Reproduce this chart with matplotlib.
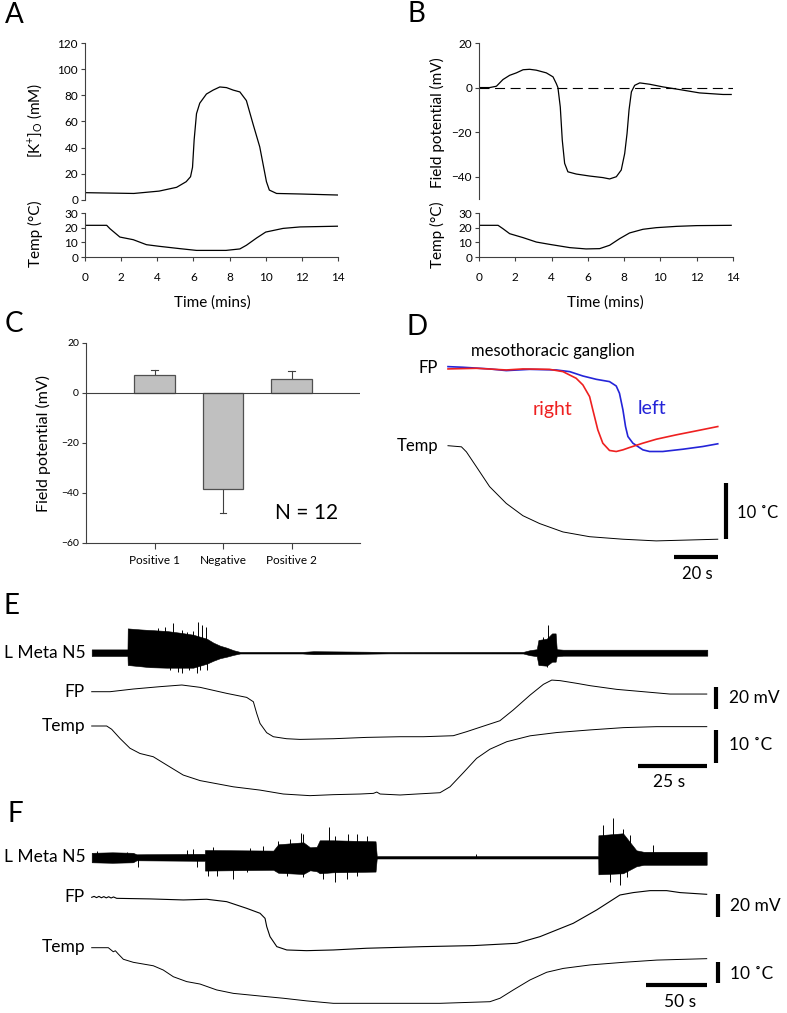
import numpy as np
import matplotlib
matplotlib.use('Agg')
import matplotlib.pyplot as plt

plt.rcParams['font.family'] = ['Lato', 'DejaVu Sans']
plt.rcParams['mathtext.default'] = 'regular'

# ---------------- DATA ----------------
# A: extracellular K+ and temperature vs time (mins)
a_time = [0, 2.7, 4.1, 5.07, 5.6, 5.84, 5.95, 6.04, 6.17, 6.35, 6.72, 7.09, 7.46, 7.83, 8.2, 8.57,
          8.93, 9.3, 9.67, 10.04, 10.2, 10.6, 11.9, 14]
a_k = [5.6, 5.0, 6.8, 9.7, 14, 17.8, 25, 46, 66, 74, 81, 84, 86.4, 85.9, 84, 82.6,
       76, 58, 40.6, 14, 7.6, 5.0, 4.6, 3.8]
a_temp_time = [0, 1.2, 1.38, 1.93, 2.67, 3.4, 4.1, 5.25, 6.17, 7.8, 8.57, 8.93, 9.5, 10.0, 10.96, 11.9, 14]
a_temp = [21.6, 21.6, 19.3, 13.6, 11.8, 8.4, 7.3, 5.7, 4.5, 4.5, 5.5, 8.0, 13.0, 17.0, 19.5, 20.5, 21.0]

# B: field potential and temperature vs time (mins)
b_time = [0, 0.59, 0.96, 1.32, 1.69, 2.06, 2.43, 2.79, 3.16, 3.71, 4.08, 4.26, 4.35, 4.48, 4.59, 4.72,
          4.9, 5.36, 6.1, 6.83, 7.2, 7.57, 7.84, 8.03, 8.16, 8.27, 8.4, 8.58, 8.86, 9.4, 10.14,
          11.06, 12.16, 13.45, 13.9]
b_fp = [0, 0, 0.6, 3.6, 5.5, 6.6, 8.0, 8.2, 7.8, 6.6, 4.8, 1.8, 0, -8.7, -23.6, -34,
        -37.8, -38.8, -39.7, -40.4, -41, -40, -37, -29.6, -20.6, -10, -1.9, 1.0, 2.1, 1.5, 0.3,
        -0.9, -2.4, -3.1, -3.1]
b_temp_time = [0, 1.05, 1.32, 1.69, 2.43, 3.16, 3.9, 5.0, 5.9, 6.65, 7.2, 7.75, 8.3, 9.04, 9.77,
               10.9, 12.0, 13.9]
b_temp = [21.6, 21.6, 19.3, 15.9, 13.2, 10.2, 8.6, 6.4, 5.5, 5.7, 8.0, 12.5, 16.4, 18.9, 20.0,
          20.9, 21.4, 21.6]

# C: mean field potential (mV) with SEM
c_labels = ['Positive 1', 'Negative', 'Positive 2']
c_means = [7.3, -38.5, 5.7]
c_err = [2.0, 9.4, 3.0]

# D: mesothoracic ganglion, time in s, FP in mV, temp change in degC
d_left_time = [0, 6.9, 19.2, 26.9, 37.7, 50, 56.2, 62.3, 68.5, 74.6, 77.7, 79.2, 80.8, 82, 83.1,
               85.4, 90, 93.1, 99.2, 108.5, 117.7, 124.6]
d_left_fp = [0.8, 0.5, -0.3, -1.1, -0.5, -0.8, -1.6, -3.7, -5.3, -6.4, -8.5, -12, -20, -28, -32.8,
             -36, -39.2, -40, -40, -38.9, -37.6, -36.3]
d_right_time = [0, 13.1, 26.9, 34.6, 46.9, 53.1, 59.2, 62.3, 65.4, 66.9, 69.2, 71.5, 74.6, 77.7,
                80.8, 83.8, 90, 96.2, 105.4, 114.6, 124.6]
d_right_fp = [-0.3, 0, -0.8, -0.3, -0.5, -1.6, -4.8, -8, -13.6, -20, -29.6, -36, -39.5, -40,
              -39.2, -38.1, -36, -34.1, -32, -30.1, -28]
d_temp_time = [0, 6.2, 8.5, 13.1, 19.2, 26.9, 34.6, 42.3, 53.1, 65.4, 80.8, 96.2, 124.6]
d_temp = [0, -0.2, -1.1, -3.75, -7.3, -10.3, -12.5, -13.9, -15.4, -16.25, -16.7, -17.0, -16.7]

# E: nerve envelope (upper/lower extent), FP (mV), temp change (degC); time in s
e_n5_time = [0, 12.9, 13.0, 17.4, 21.0, 27.0, 31.8, 36.6, 41.5, 43.9, 46.3, 48.7, 51.1, 53.5, 76,
             80, 99, 107, 155.6, 158, 160.5, 161.1, 164.1, 166, 167.3, 167.7, 170, 222]
e_n5_top = [3.3, 3.3, 24.3, 23.3, 22.7, 21.7, 20, 18, 14, 10, 7, 5, 2.5, 0.8, 0.8,
            1.5, 1.0, 0.7, 0.8, 2.5, 3.5, 12.7, 14, 19.3, 19.3, 3.5, 3, 3]
e_n5_bottom = [3.3, 3.3, 12.3, 13.5, 14.5, 15, 15, 15, 11, 8, 5.5, 4, 2.2, 0.8, 0.8,
               1.5, 1.0, 0.7, 0.8, 2.5, 3.5, 12.3, 13, 9, 9, 3.5, 3, 3]
e_up_time = [24.0, 26.5, 29.4, 32.5, 34.3, 36.7, 38.2, 39.7, 41.2, 162.9, 164.7]
e_up_amp = [25, 25.5, 29.3, 22.7, 21, 22, 31, 27.7, 26, 16, 27.7]
e_down_time = [25.8, 28.2, 31.2, 32.5, 35.0, 37.9, 39.1, 41.5, 164.1]
e_down_amp = [14, 17.3, 19, 20.7, 17, 20, 17.3, 17.3, 14.7]
e_fp_time = [0, 6.6, 15.0, 24.6, 32.5, 39.1, 48.7, 55.9, 58.3, 59.5, 60.7, 63.1, 65.5, 70.3, 75.1,
             87.1, 99.2, 111.2, 119.6, 130.4, 135.2, 142.4, 147.2, 152.0, 158.1, 162.9, 165.9,
             168.9, 174.9, 179.7, 189.3, 198.9, 208.5, 221.8]
e_fp = [0, 0, 2.4, 4.5, 6.0, 3.9, -1.5, -5.1, -9.0, -19.4, -28.4, -36.7, -40.3, -42.1, -42.7,
        -42.1, -40.9, -40.3, -40.3, -39.4, -35.8, -29.9, -26.0, -16.4, -3.0, 6.6, 10.4,
        9.9, 7.5, 5.4, 2.1, 0, -2.1, -2.1]
e_temp_time = [0, 5.4, 7.2, 10.2, 13.8, 17.4, 22.2, 27.0, 33.0, 39.1, 51.1, 60.7, 69.1, 78.7, 87.1,
               96.8, 101.6, 102.8, 104.0, 111.2, 117.2, 125.6, 129.2, 134.0, 138.8, 143.6, 149.7,
               158.1, 167.7, 179.7, 191.7, 203.7, 221.8]
e_temp = [0, 0, -1.0, -3.8, -6.8, -8.4, -9.4, -11.9, -15.0, -16.7, -18.6, -19.6, -20.8, -21.3, -21.0,
          -20.8, -20.6, -20.2, -20.8, -21.1, -20.8, -20.4, -18.6, -14.3, -9.9, -7.1, -4.8,
          -3.0, -2.0, -1.2, -0.5, -0.2, -0.2]

# F
f_n5_time = [0, 17, 34, 37, 89, 93.3, 93.4, 149.7, 153.8, 174.5, 180, 185.5, 188, 199, 234,
             235, 416, 417.6, 417.7, 438, 449, 455, 507]
f_n5_top = [4.5, 5, 4.5, 3, 3.5, 3.5, 7.3, 6.7, 13, 15, 10, 10.5, 17, 17, 16,
            1.2, 1.2, 1.2, 22, 24, 7, 5.5, 5.5]
f_n5_bottom = [5, 5.5, 5, 3, 3.5, 3.5, 13.3, 12.5, 15.5, 16.7, 13, 14, 16, 15, 14.3,
               1.2, 1.2, 1.2, 17, 16, 9, 7.5, 7.5]
f_up_time = [4.1, 28.9, 78.3, 83.8, 100.2, 130.5, 141.5, 153.8, 163.5, 172.3, 174.5, 195.9,
             200.6, 211.5, 218.5, 226.7, 317, 421.8, 430, 438.3, 443.8, 463]
f_up_amp = [6.7, 5.7, 7.7, 8.3, 10, 9, 11, 16.7, 18.3, 24.3, 23.3, 30, 21.7, 23.3, 23.3, 21.7,
            3.5, 32, 39, 28, 22, 12.3]
f_down_time = [38.4, 86.6, 96.1, 103.0, 116.7, 127.8, 160.8, 174.5, 190.9, 200.6, 210.2, 218.5,
               427.3, 435.5, 441]
f_down_amp = [10, 10, 18.3, 18.3, 21.7, 15, 18.3, 20, 21.7, 25, 21.7, 18.3, 24.3, 27.7, 20]
f_fp_time = [0, 2, 4, 6, 8, 10, 12, 14, 16, 18, 20.6, 48.1, 75.5, 94.8, 111.3, 127.8, 138.8, 142.9,
             144.3, 147.0, 152.6, 160.8, 177.2, 199.2, 226.7, 254.2, 273.4, 314.6, 350.4, 369.6,
             397.0, 416.3, 435.5, 446.5, 460.3, 474.0, 485.0, 507.0]
f_fp = [0, 0.8, -0.3, 0.8, -0.4, 0.6, -0.5, 0.5, -0.6, 0.3, -0.9, -1.4, -2.3, -1.7, -3.8, -9.6,
        -13.9, -18.3, -25.5, -34.2, -42.9, -45.8, -46.4, -45.8, -44.3, -43.5, -42.9, -42.0,
        -40.0, -34.2, -22.6, -11.0, 2.0, 4.1, 5.8, 5.8, 4.1, 2.6]
f_temp_time = [0, 13.7, 17.8, 19.5, 21.9, 26.1, 34.3, 50.8, 59.0, 67.3, 78.3, 89.3, 103.0, 116.8,
               138.8, 158.0, 177.2, 199.2, 254.2, 287.1, 328.3, 336.6, 347.6, 361.3, 375.1, 388.8,
               410.8, 438.3, 465.8, 507.0]
f_temp = [0, 0, -2.0, -1.5, -3.1, -5.7, -7.2, -8.9, -11.0, -14.3, -16.7, -17.9, -20.8, -22.5,
          -23.8, -24.9, -26.2, -27.4, -27.4, -27.4, -26.6, -24.9, -20.8, -15.9, -12.1, -10.2,
          -8.5, -7.2, -6.1, -5.4]

# ---------------- LAYOUT HELPERS ----------------
W, H = 787, 1013
fig = plt.figure(figsize=(W / 100, H / 100), dpi=100)
AX_COL = '#404040'


def box(x0, y0, x1, y1):
    return fig.add_axes([x0 / W, 1 - y1 / H, (x1 - x0) / W, (y1 - y0) / H])


def text(x, y, s, **kw):
    kw.setdefault('va', 'center')
    fig.text(x / W, 1 - y / H, s, **kw)


def style(ax, bottom=True, size=8.5):
    ax.patch.set_alpha(0)
    ax.spines['top'].set_visible(False)
    ax.spines['right'].set_visible(False)
    for s in ['left', 'bottom']:
        ax.spines[s].set_color(AX_COL)
        ax.spines[s].set_linewidth(0.8)
    if not bottom:
        ax.spines['bottom'].set_visible(False)
        ax.set_xticks([])
    ax.tick_params(direction='out', length=3, width=0.8, color=AX_COL, labelsize=size, pad=2)
    ax.tick_params(axis='x', pad=8)


def trace_axes(x0, y0, x1, y1, t0_px, px_per_s):
    # y data == figure pixels (downwards), x data == seconds
    ax = box(x0, y0, x1, y1)
    ax.set_xlim((x0 - t0_px) / px_per_s, (x1 - t0_px) / px_per_s)
    ax.set_ylim(y1, y0)
    ax.axis('off')
    return ax


def nerve(ax, t, top, bottom, up_t, up_a, dn_t, dn_a, base):
    ax.fill_between(t, base - np.array(top), base + np.array(bottom), color='k', lw=0.4)
    ax.vlines(up_t, base, base - np.array(up_a), color='k', lw=0.7)
    ax.vlines(dn_t, base, base + np.array(dn_a), color='k', lw=0.7)


def trace(ax, t, v, base, scale, **kw):
    kw.setdefault('color', 'k')
    kw.setdefault('lw', 0.8)
    ax.plot(t, base - np.array(v) * scale, **kw)


def vbar(ax, t, y_top, length):
    ax.plot([t, t], [y_top, y_top + length], color='k', lw=3, solid_capstyle='butt')


def hbar(ax, t0, t1, y):
    ax.plot([t0, t1], [y, y], color='k', lw=3, solid_capstyle='butt')


LBL = 20

# ---------------- A ----------------
text(14, 15, 'A', fontsize=LBL, ha='center')
ax = box(85, 43, 338, 200)
style(ax, bottom=False)
ax.plot(a_time, a_k, color='k', lw=0.9)
ax.set_xlim(0, 14)
ax.set_ylim(0, 120)
ax.set_yticks(range(0, 121, 20))
ax = box(85, 213, 338, 257)
style(ax)
ax.plot(a_temp_time, a_temp, color='k', lw=0.9)
ax.set_xlim(0, 14)
ax.set_ylim(0, 30)
ax.set_yticks([0, 10, 20, 30])
ax.set_xticks(range(0, 15, 2))
text(35, 120, '[K$^{+}$]$_{O}$ (mM)', fontsize=11, rotation=90, ha='center')
text(35, 234, 'Temp (°C)', fontsize=11, rotation=90, ha='center')
text(212, 303, 'Time (mins)', fontsize=11, ha='center')

# ---------------- B ----------------
text(416, 14, 'B', fontsize=LBL, ha='center')
ax = box(479, 43, 733, 199)
style(ax, bottom=False)
ax.plot(b_time, b_fp, color='k', lw=0.9)
ax.plot([0, 14], [0, 0], color='k', lw=0.8, dashes=(9, 5))
ax.set_xlim(0, 14)
ax.set_ylim(-50, 20)
ax.set_yticks([-40, -20, 0, 20])
ax = box(479, 213, 733, 257)
style(ax)
ax.plot(b_temp_time, b_temp, color='k', lw=0.9)
ax.set_xlim(0, 14)
ax.set_ylim(0, 30)
ax.set_yticks([0, 10, 20, 30])
ax.set_xticks(range(0, 15, 2))
text(437, 123, 'Field potential (mV)', fontsize=11, rotation=90, ha='center')
text(437, 235, 'Temp (°C)', fontsize=11, rotation=90, ha='center')
text(605, 303, 'Time (mins)', fontsize=11, ha='center')

# ---------------- C ----------------
text(14, 324, 'C', fontsize=LBL, ha='center')
ax = box(86, 343, 360, 543)
style(ax, size=7.5)
xpos = [1, 2, 3]
ax.bar(xpos, c_means, width=0.59, color='#c0c0c0', edgecolor='#505050', lw=0.9, zorder=2)
for x, m, e in zip(xpos, c_means, c_err):
    tip = m + e if m > 0 else m - e
    ax.plot([x, x], [m, tip], color='#404040', lw=0.8, zorder=1)
    ax.plot([x - 0.05, x + 0.05], [tip, tip], color='#404040', lw=0.8, zorder=1)
ax.axhline(0, color=AX_COL, lw=0.8, zorder=3)
ax.set_xlim(0, 4)
ax.set_ylim(-60, 20)
ax.set_yticks([-60, -40, -20, 0, 20])
ax.set_xticks(xpos)
ax.set_xticklabels(c_labels, fontsize=8.5)
ax.tick_params(axis='x', length=4, pad=5)
ax.text(3.22, -48, 'N = 12', fontsize=15, ha='center', va='center')
text(43, 443, 'Field potential (mV)', fontsize=11.5, rotation=90, ha='center')

# ---------------- D ----------------
text(417, 327, 'D', fontsize=LBL, ha='center')
ax = trace_axes(440, 345, 745, 590, 448, 2.165)
trace(ax, d_left_time, d_left_fp, 368.3, 2.08, color='#2424d8', lw=1.2)
trace(ax, d_right_time, d_right_fp, 368.3, 2.08, color='#ee2020', lw=1.2)
trace(ax, d_temp_time, d_temp, 445.7, 5.6, lw=0.7)
vbar(ax, 128.4, 445.7 + 16.7 * 5.6 - 10 * 5.6, 10 * 5.6)
hbar(ax, d_temp_time[-1] - 20, d_temp_time[-1], 556.7)
text(553, 351, 'mesothoracic ganglion', fontsize=12, ha='center')
text(438, 368, 'FP', fontsize=12, ha='right')
text(438, 446, 'Temp', fontsize=12, ha='right')
text(553, 409, 'right', fontsize=14, ha='center', color='#ee2020')
text(652, 409, 'left', fontsize=14, ha='center', color='#2424d8')
text(737, 513, '10 ˚C', fontsize=12, ha='left')
text(697, 574, '20 s', fontsize=12, ha='center')

# ---------------- E ----------------
text(12, 606, 'E', fontsize=LBL, ha='center')
ax = trace_axes(0, 590, 787, 800, 91.7, 2.773)
nerve(ax, e_n5_time, e_n5_top, e_n5_bottom, e_up_time, e_up_amp, e_down_time, e_down_amp, 652.7)
trace(ax, e_fp_time, e_fp, 691.7, 1.117, lw=0.7)
trace(ax, e_temp_time, e_temp, 726, 3.27, lw=0.7)
vbar(ax, 225.1, 686.7, 20 * 1.117)
vbar(ax, 225.1, 730, 10 * 3.27)
hbar(ax, 197, 222, 766)
text(86, 653, 'L Meta N5', fontsize=12.5, ha='right')
text(85, 692, 'FP', fontsize=12.5, ha='right')
text(85, 726, 'Temp', fontsize=12.5, ha='right')
text(729, 698, '20 mV', fontsize=12.5, ha='left')
text(729, 745, '10 ˚C', fontsize=12.5, ha='left')
text(669, 782, '25 s', fontsize=12.5, ha='center')

# ---------------- F ----------------
text(15, 814, 'F', fontsize=LBL, ha='center')
ax = trace_axes(0, 800, 787, 1013, 91.7, 1.213)
nerve(ax, f_n5_time, f_n5_top, f_n5_bottom, f_up_time, f_up_amp, f_down_time, f_down_amp, 857.3)
trace(ax, f_fp_time, f_fp, 897.3, 1.15)
trace(ax, f_temp_time, f_temp, 947.7, 2.03, lw=0.7)
vbar(ax, 516.6, 894.3, 20 * 1.15)
vbar(ax, 516.6, 962.3, 10 * 2.03)
hbar(ax, 457, 507, 985)
text(86, 857, 'L Meta N5', fontsize=12.5, ha='right')
text(85, 897, 'FP', fontsize=12.5, ha='right')
text(85, 947, 'Temp', fontsize=12.5, ha='right')
text(730, 906, '20 mV', fontsize=12.5, ha='left')
text(730, 974, '10 ˚C', fontsize=12.5, ha='left')
text(680, 1002, '50 s', fontsize=12.5, ha='center')

fig.savefig('out.png', dpi=100)
